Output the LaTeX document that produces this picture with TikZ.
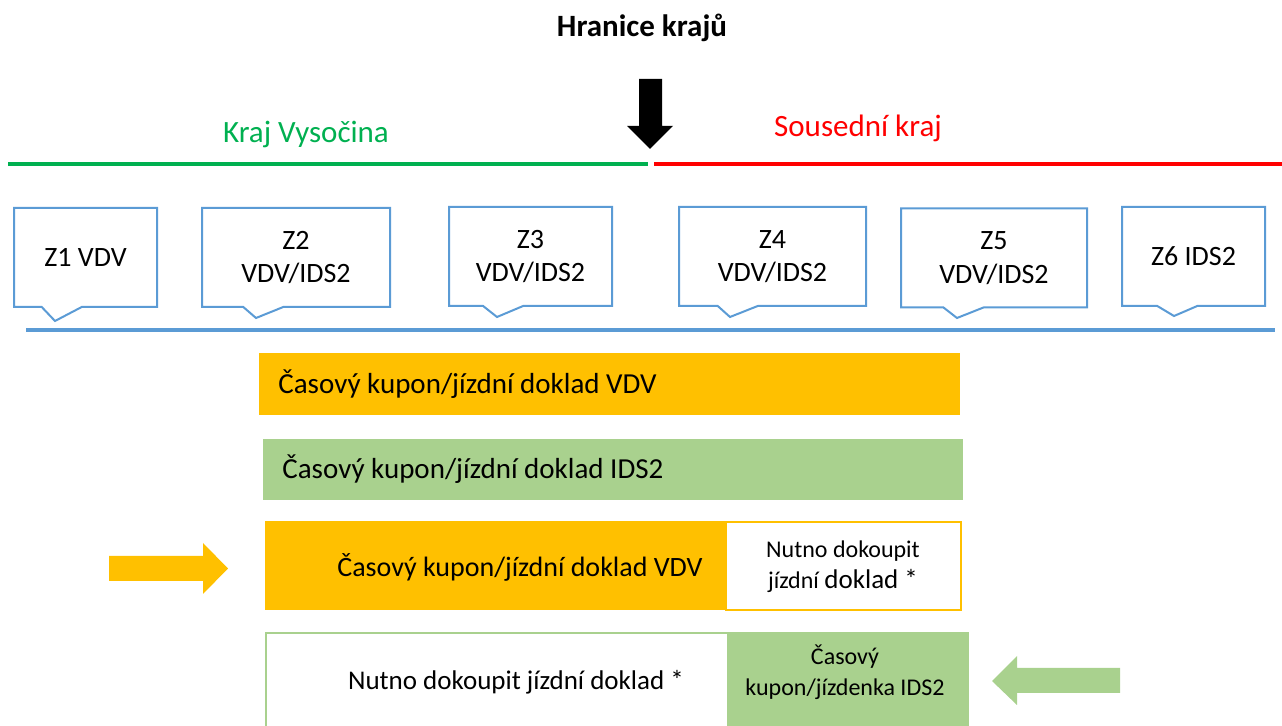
\documentclass[tikz,border=0pt]{standalone}
\usepackage{fontspec}
\setmainfont{Carlito}
\usetikzlibrary{shapes.callouts}

\definecolor{zoneBlue}{HTML}{5B9BD5}
\definecolor{vdvOrange}{HTML}{FFC000}
\definecolor{idsGreen}{HTML}{A9D18E}
\definecolor{krajGreen}{HTML}{00B050}
\definecolor{krajRed}{HTML}{FF0000}

\tikzset{
	zone/.style={rectangle callout, draw=zoneBlue, line width=1pt, align=center, inner sep=0pt, minimum height=49.5pt, callout pointer width=20pt, font=\fontsize{14}{16.7}\selectfont},
	ticket/.style={anchor=west, inner xsep=9.5pt, inner ysep=0pt, align=flush left, font=\fontsize{14.5}{17}\selectfont},
	note/.style={align=center, font=\fontsize{12}{15.5}\selectfont},
	region/.style={font=\fontsize{15.5}{18}\selectfont},
}

\begin{document}
\begin{tikzpicture}[x=0.5pt, y=-0.5pt]

	\useasboundingbox (0,0) rectangle (1282,726);

	\node[font=\fontsize{15.5}{18}\selectfont\bfseries] at (642,28) (hranice) {Hranice krajů};
	\fill (639,79) -- (662,79) -- (662,126) -- (673,126) -- (650,149) -- (627,126) -- (639,126) -- cycle;

	\node[region, text=krajGreen] at (306,135) (vysocina) {Kraj Vysočina};
	\node[region, text=krajRed] at (858,128) (soused) {Sousední kraj};
	\draw[krajGreen, line width=2pt] (8,164) -- (648,164);
	\draw[krajRed, line width=2pt] (654,164) -- (1282,164);

	\node[zone, minimum width=71.5pt, callout absolute pointer={(55,321)}] at (85.5,257.5) (z1) {Z1 VDV};
	\node[zone, minimum width=94pt, callout absolute pointer={(256,318)}] at (296,257.5) (z2) {Z2\\VDV/IDS2};
	\node[zone, minimum width=81.5pt, callout absolute pointer={(497,317)}] at (530.5,256.5) (z3) {Z3\\VDV/IDS2};
	\node[zone, minimum width=93.5pt, callout absolute pointer={(730,317)}] at (772.5,256.5) (z4) {Z4\\VDV/IDS2};
	\node[zone, minimum width=93pt, callout absolute pointer={(957,318)}] at (994,258) (z5) {Z5\\VDV/IDS2};
	\node[zone, minimum width=71.5pt, callout absolute pointer={(1174,316)}] at (1193.5,256.5) (z6) {Z6 IDS2};
	\draw[zoneBlue, line width=2pt] (26,330) -- (1275,330);

	\node[ticket, fill=vdvOrange, text width=331.5pt, minimum height=31pt] at (259,384) (vdv) {Časový kupon/jízdní doklad VDV};
	\node[ticket, fill=idsGreen, text width=331pt, minimum height=30.5pt] at (263,469.5) (ids) {Časový kupon/jízdní doklad IDS2};

	% VDV kupon, na dalsi usek nutno dokoupit
	\fill[vdvOrange] (265,521) rectangle (726,610);
	\draw[vdvOrange, fill=white, line width=1pt] (726,522) rectangle (961,610);
	\node[font=\fontsize{14}{17}\selectfont] at (520,567) (vdvPart) {Časový kupon/jízdní doklad VDV};
	\node[note] at (843,567) (dokoupitA) {Nutno dokoupit\\jízdní {\fontsize{13.5}{15.5}\selectfont doklad *}};
	\fill[vdvOrange] (109,556) -- (203,556) -- (203,543) -- (228,568.5) -- (203,594) -- (203,581) -- (109,581) -- cycle;

	% IDS2 kupon, na predchozi usek nutno dokoupit
	\draw[idsGreen, line width=1pt] (266,633) rectangle (728,732);
	\fill[idsGreen] (728,632) rectangle (969,726);
	\node[font=\fontsize{13.5}{17}\selectfont] at (516,682) (dokoupitB) {Nutno dokoupit jízdní doklad *};
	\node[note] at (845,672) (idsPart) {Časový\\kupon/jízdenka IDS2};
	\fill[idsGreen] (1120,668) -- (1017,668) -- (1017,656) -- (992,681) -- (1017,705) -- (1017,693) -- (1120,693) -- cycle;

\end{tikzpicture}
\end{document}
